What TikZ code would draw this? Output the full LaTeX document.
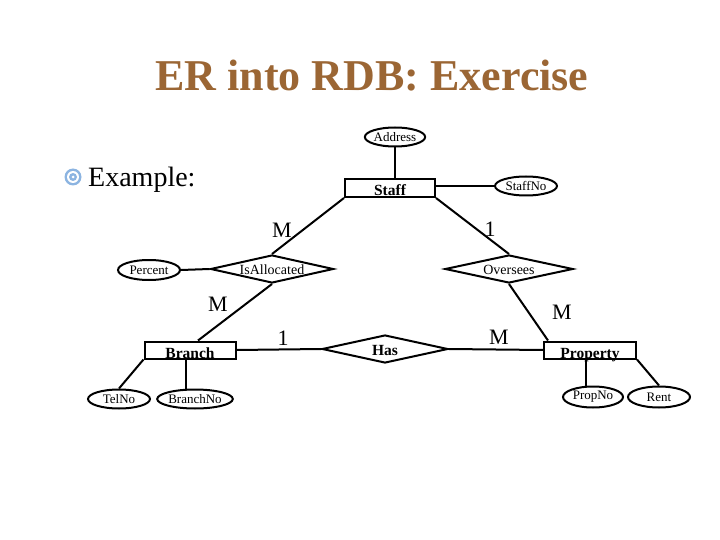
\documentclass[tikz,border=0pt]{standalone}
\usepackage{fontspec}
\setmainfont{Liberation Serif}
\usetikzlibrary{shapes.geometric}
\definecolor{titlebrown}{RGB}{155,102,52}
\definecolor{bulletblue}{RGB}{140,180,225}
\begin{document}
\begin{tikzpicture}[
        x=1pt, y=-1pt,
        entity/.style={rectangle, draw, line width=2pt, inner sep=0pt, minimum width=91pt, minimum height=17pt, text height=16pt, text depth=0pt, font=\fontsize{15.5}{16}\selectfont\bfseries},
        attrib/.style={ellipse, draw, line width=2pt, inner sep=0pt, minimum width=62pt, minimum height=19pt, font=\fontsize{13}{14}\selectfont},
        relship/.style={diamond, draw, line width=2pt, inner sep=0pt, aspect=4.4, minimum width=124pt, minimum height=28pt, text height=11pt, text depth=-4pt, font=\fontsize{14}{15}\selectfont},
        edge/.style={draw, line width=2pt},
        card/.style={font=\fontsize{22}{24}\selectfont, inner sep=0pt},
    ]
	\useasboundingbox (0,0) rectangle (720,540);
	% heading
	\node[font=\fontsize{44}{50}\selectfont\bfseries, text=titlebrown] (title) at (372,76) {ER into RDB: Exercise};
	\fill[bulletblue] (73,177) circle (8.5);
	\fill[white] (73,177) circle (6);
	\fill[bulletblue] (73,177) circle (4);
	\fill[white] (73,177) circle (1.5);
	\node[anchor=base west, inner sep=0pt, font=\fontsize{28}{30}\selectfont] (example) at (88,187) {Example:};
	% entities
	\node[entity, minimum width=90pt, minimum height=18pt] (staff) at (390,188) {Staff};
	\node[entity] (branch) at (190,350) {Branch};
	\node[entity, minimum width=92pt] (property) at (590,350) {Property};
	% relationships
	\node[relship, minimum width=123pt] (isalloc) at (272,269) {IsAllocated};
	\node[relship, minimum width=128pt] (oversees) at (509,269) {Oversees};
	\node[relship, minimum width=126pt, text height=13pt] (has) at (385,349) {\bfseries\fontsize{15.5}{16}\selectfont Has};
	% attributes
	\node[attrib, minimum width=60pt] (address) at (395,137) {Address};
	\node[attrib] (staffno) at (526,186) {StaffNo};
	\node[attrib, minimum height=20pt] (percent) at (149,270) {Percent};
	\node[attrib] (telno) at (119,399) {TelNo};
	\node[attrib, minimum width=66pt] (branchno) at (195,399) {BranchNo};
	\node[attrib, minimum width=60pt, minimum height=21pt] (propno) at (593,397) {PropNo};
	\node[attrib, minimum height=21pt] (rent) at (659,397) {Rent};
	% connectors
	\draw[edge] (address) -- (address |- staff.north);
	\draw[edge] (staffno.west) -- (staff.east |- staffno.west);
	\draw[edge] (staff.south west) -- (isalloc.north);
	\draw[edge] (staff.south east) -- (oversees.north);
	\draw[edge] (percent.east) -- (isalloc.west);
	\draw[edge] (isalloc.south) -- ([xshift=8]branch.north);
	\draw[edge] (oversees.south) -- ([xshift=-42]property.north);
	\draw[edge] (branch.east) -- (has.west);
	\draw[edge] (has.east) -- (property.west);
	\draw[edge] (branch.south west) -- (telno.north);
	\draw[edge] ([xshift=-4]branch.south) -- ([xshift=-4]branch.south |- branchno.north);
	\draw[edge] ([xshift=-4]property.south) -- ([xshift=-4]property.south |- propno.north);
	\draw[edge] (property.south east) -- (rent.north);
	% cardinalities
	\node[card] (m_staff_alloc) at (282,230) {M};
	\node[card] (one_staff_over) at (490,229) {1};
	\node[card] (m_branch_alloc) at (218,304) {M};
	\node[card] (m_prop_over) at (562,312) {M};
	\node[card] (one_branch_has) at (283,338) {1};
	\node[card] (m_prop_has) at (499,337) {M};
    \end{tikzpicture}
\end{document}
